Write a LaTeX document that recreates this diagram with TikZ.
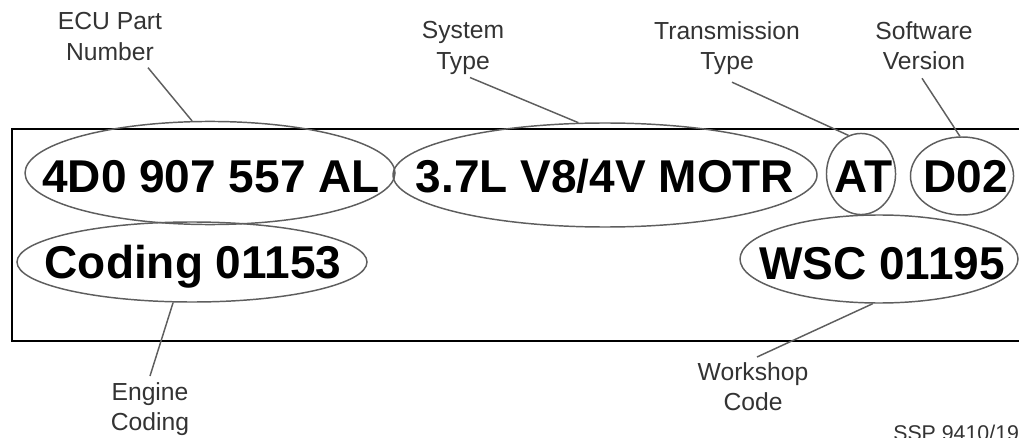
\documentclass[tikz,border=0pt]{standalone}
\usepackage{fontspec}
\setmainfont{Liberation Sans}
\usepackage{tikz}
\usetikzlibrary{shapes.geometric,calc}
\definecolor{ovalgray}{HTML}{5E5E5E}

\begin{document}
\begin{tikzpicture}[
  x=0.75pt, y=-0.75pt,
  oval/.style={ellipse, draw=ovalgray, line width=1.1pt, inner sep=0pt},
  code/.style={font=\fontsize{34.5}{40}\selectfont\bfseries, inner sep=0pt,
    text height=24.6pt, text depth=0pt},
  lbl/.style={font=\fontsize{18.5}{23}\selectfont, align=center, inner sep=0pt,
    anchor=north, text=black!80},
  lead/.style={draw=ovalgray, line width=1.1pt},
]
\clip (0,0) rectangle (1019,438);
% label plate
\draw[line width=1.5pt] (12,129) rectangle (1040,341);
% ovals round the codes
\node[oval, minimum width=277.5pt, minimum height=77.3pt] (partoval) at (210,173) {};
\node[oval, minimum width=262.5pt, minimum height=60pt] (codingoval) at (192,262) {};
\node[oval, minimum width=318pt, minimum height=78pt] (sysoval) at (605,175) {};
\node[oval, minimum width=51.8pt, minimum height=60.8pt] (atoval) at (861,174) {};
\node[oval, minimum width=77.3pt, minimum height=58.5pt] (swoval) at (962,176) {};
\node[oval, minimum width=208.5pt, minimum height=66pt] (wscoval) at (879,259) {};
% codes
\node[code] (part) at (211,176.5) {4D0 907 557 AL};
\node[code] (coding) at (193,262.5) {Coding 01153};
\node[code] (sys) at (605,176.5) {3.7L V8/4V MOTR};
\node[code] (trans) at (863.5,176.5) {AT};
\node[code] (sw) at (965.5,176.5) {D02};
\node[code] (wsc) at (882,263.5) {WSC 01195};
% labels
\node[lbl] (partlbl) at (110,12) {ECU Part\\Number};
\node[lbl] (syslbl) at (463,21) {System\\Type};
\node[lbl] (translbl) at (727,21) {Transmission\\Type};
\node[lbl] (swlbl) at (924,21) {Software\\Version};
\node[lbl] (wsclbl) at (753,362) {Workshop\\Code};
\node[lbl] (codinglbl) at (150,382) {Engine\\Coding};
\node[lbl, anchor=north west, font=\fontsize{16}{18}\selectfont] (ssp) at (893,425) {SSP 9410/192};
% leaders
\draw[lead] ([shift={(38,7)}]partlbl.south) -- (partoval.109);
\draw[lead] ([shift={(7,3)}]syslbl.south) -- (sysoval.117);
\draw[lead] ([shift={(5,7)}]translbl.south) -- (atoval.108);
\draw[lead] ([shift={(-2,8)}]swlbl.south) -- (swoval.93);
\draw[lead] ([shift={(4,-5)}]wsclbl.north) -- (wscoval.262);
\draw[lead] ([shift={(0,-6)}]codinglbl.north) -- (codingoval.245);
\end{tikzpicture}
\end{document}
